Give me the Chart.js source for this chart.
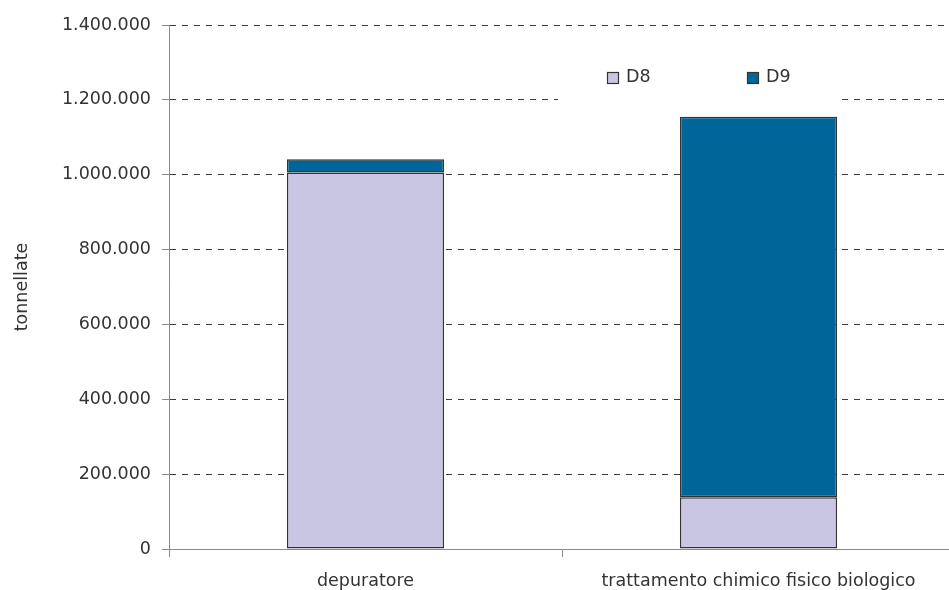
<!DOCTYPE html>
<html>
<head>
<meta charset="utf-8">
<script src="https://cdn.jsdelivr.net/npm/chart.js@4.4.1/dist/chart.umd.min.js"></script>
<style>
  html, body { margin: 0; padding: 0; background: #fff; overflow: hidden; }
  /* plot runs a few px past the right edge, as in the original */
  #wrap { width: 955px; height: 590px; position: relative; }
</style>
</head>
<body>
<div id="wrap"><canvas id="chart"></canvas></div>
<script>
/* stacked bars: D8 / D9 per tipo di impianto */

const CATEGORIES = ['depuratore', 'trattamento chimico fisico biologico'];
const D8_VALUES  = [1006000, 138500];
const D9_VALUES  = [35500, 1016500];
const Y_MAX  = 1400000;
const Y_STEP = 200000;

const FONT = { family: '"DejaVu Sans", sans-serif', size: 17.5 };
const TEXT = '#333333';
const AXIS = '#8a8a8a';

// 1400000 -> "1.400.000"
function fmtIt(v) {
  return String(Math.round(v)).replace(/\B(?=(\d{3})+(?!\d))/g, '.');
}

/* legend drawn by hand, inside the plot, on a white box */
const boxLegend = {
  id: 'boxLegend',
  afterDraw(chart) {
    const ctx = chart.ctx;
    ctx.save();
    ctx.fillStyle = '#ffffff';
    ctx.fillRect(558, 56, 279, 56);
    const xs = [607, 747];
    ctx.font = FONT.size + 'px ' + FONT.family;
    ctx.textBaseline = 'middle';
    chart.data.datasets.forEach((ds, i) => {
      ctx.fillStyle = ds.backgroundColor;
      ctx.fillRect(xs[i] + 0.5, 72.5, 11, 11);
      ctx.strokeStyle = '#333';
      ctx.lineWidth = 1.2;
      ctx.strokeRect(xs[i] + 0.5, 72.5, 11, 11);
      ctx.fillStyle = TEXT;
      ctx.fillText(ds.label, xs[i] + 19, 77);
    });
    ctx.restore();
  },
};

Chart.defaults.font = FONT;
Chart.defaults.color = TEXT;

new Chart(document.getElementById('chart'), {
  type: 'bar',
  data: {
    labels: CATEGORIES,
    datasets: [
      {
        label: 'D8',
        data: D8_VALUES,
        backgroundColor: '#c9c6e3',
        borderColor: '#333',
        borderWidth: 1.5,
        borderSkipped: false,
      },
      {
        label: 'D9',
        data: D9_VALUES,
        backgroundColor: '#006699',
        borderColor: '#333',
        borderWidth: 1.5,
        borderSkipped: false,
      },
    ],
  },
  options: {
    responsive: true,
    maintainAspectRatio: false,
    animation: false,
    layout: { padding: { top: 25, right: 0, left: 0, bottom: 0 } },
    datasets: { bar: { categoryPercentage: 1, barPercentage: 0.4 } },
    plugins: {
      legend: { display: false },
      tooltip: { enabled: false },
    },
    scales: {
      x: {
        stacked: true,
        offset: true,
        grid: {
          offset: true,
          drawOnChartArea: false,
          tickLength: 8,
          color: AXIS,
        },
        border: { color: AXIS, width: 1 },
        ticks: { padding: 14, maxRotation: 0, autoSkip: false },
        afterFit: s => { s.height = 41; },
      },
      y: {
        stacked: true,
        min: 0,
        max: Y_MAX,
        grid: {
          color: c => (c.tick && c.tick.value === 0 ? 'rgba(0,0,0,0)' : '#3c3c3c'),
          tickBorderDash: [],
          tickColor: AXIS,
          tickLength: 7,
        },
        border: { color: AXIS, width: 1, dash: [6, 6] },
        ticks: {
          stepSize: Y_STEP,
          padding: 11,
          callback: v => fmtIt(v),
        },
        title: {
          display: true,
          text: 'tonnellate',
          padding: { top: 12, bottom: 0 },
        },
        afterFit: s => { s.width = 169; },
      },
    },
  },
  plugins: [boxLegend],
});
</script>
</body>
</html>
